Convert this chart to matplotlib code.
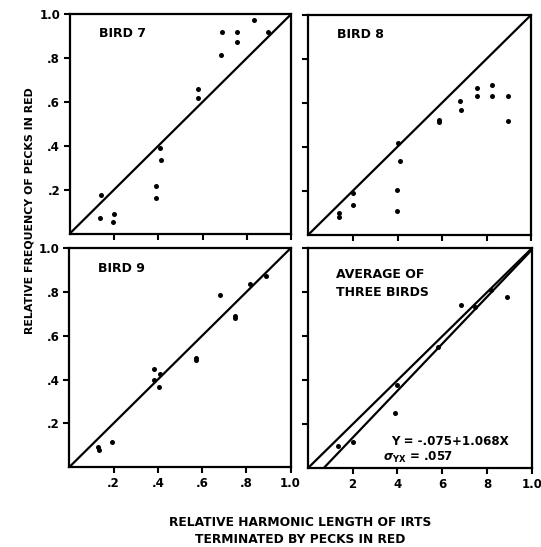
import matplotlib
matplotlib.use("Agg")
import matplotlib.pyplot as plt
import numpy as np

plt.rcParams['font.family'] = ['DejaVu Sans']
plt.rcParams['font.weight'] = 'bold'

# ---- data ----
bird7_x = [0.139, 0.136, 0.199, 0.196, 0.388, 0.388, 0.408, 0.411, 0.579, 0.579,
           0.687, 0.684, 0.755, 0.755, 0.831, 0.897]
bird7_y = [0.175, 0.073, 0.088, 0.055, 0.216, 0.163, 0.388, 0.337, 0.658, 0.617,
           0.921, 0.813, 0.918, 0.875, 0.975, 0.917]

bird8_x = [0.138, 0.138, 0.198, 0.198, 0.403, 0.411, 0.397, 0.397, 0.585, 0.585,
           0.682, 0.685, 0.756, 0.756, 0.825, 0.825, 0.895, 0.895]
bird8_y = [0.098, 0.082, 0.189, 0.136, 0.417, 0.336, 0.205, 0.106, 0.523, 0.513,
           0.608, 0.568, 0.668, 0.630, 0.682, 0.630, 0.630, 0.517]

bird9_x = [0.131, 0.133, 0.192, 0.385, 0.385, 0.408, 0.406, 0.574, 0.574,
           0.680, 0.748, 0.748, 0.819, 0.890]
bird9_y = [0.092, 0.080, 0.114, 0.447, 0.399, 0.425, 0.364, 0.500, 0.488,
           0.785, 0.692, 0.680, 0.836, 0.874]

avg_x = [0.134, 0.201, 0.390, 0.399, 0.582, 0.682, 0.746, 0.820, 0.888]
avg_y = [0.102, 0.120, 0.250, 0.379, 0.550, 0.744, 0.732, 0.812, 0.780]

reg_intercept = -0.075
reg_slope = 1.068

titles = ["BIRD 7", "BIRD 8", "BIRD 9", "AVERAGE OF\nTHREE BIRDS"]
ytick_vals = [0.2, 0.4, 0.6, 0.8, 1.0]
ytick_labels = [".2", ".4", ".6", ".8", "1.0"]
xtick_vals = [0.2, 0.4, 0.6, 0.8, 1.0]
xtick_labels_left = [".2", ".4", ".6", ".8", "1.0"]
xtick_labels_right = ["2", "4", "6", "8", "1.0"]
ylabel = "RELATIVE FREQUENCY OF PECKS IN RED"
xlabel = "RELATIVE HARMONIC LENGTH OF IRTS\nTERMINATED BY PECKS IN RED"
eq_text = "Y = -.075+1.068X"
sigma_text = r"$\sigma_{\mathbf{YX}}$" + " = .057"

# ---- figure ----
fig = plt.figure(figsize=(5.41, 5.47), dpi=100)
positions = [
    [0.129, 0.573, 0.409, 0.401],
    [0.570, 0.571, 0.412, 0.402],
    [0.128, 0.146, 0.409, 0.400],
    [0.569, 0.144, 0.414, 0.402],
]
xs = [bird7_x, bird8_x, bird9_x, avg_x]
ys = [bird7_y, bird8_y, bird9_y, avg_y]

for i, pos in enumerate(positions):
    ax = fig.add_axes(pos)
    ax.set_xlim(0, 1.0)
    ax.set_ylim(0, 1.0)
    ax.plot([0, 1], [0, 1], color='black', lw=1.6, solid_capstyle='butt')
    if i == 3:
        lx = np.array([0.0, 1.0])
        ax.plot(lx, reg_intercept + reg_slope * lx, color='black', lw=1.6,
                solid_capstyle='butt')
    ax.plot(xs[i], ys[i], 'o', color='black', ms=3.6, mec='black', mew=0)
    for s in ax.spines.values():
        s.set_linewidth(1.6)
    ax.set_xticks(xtick_vals)
    ax.set_yticks(ytick_vals)
    ax.tick_params(direction='out', length=4, width=1.5, labelsize=8.5, pad=3)
    if i in (0, 2):
        ax.set_yticklabels(ytick_labels, fontweight='bold')
    else:
        ax.set_yticklabels([])
    if i == 2:
        ax.set_xticklabels(xtick_labels_left, fontweight='bold')
    elif i == 3:
        ax.set_xticklabels(xtick_labels_right, fontweight='bold')
    else:
        ax.set_xticklabels([])
    if i < 3:
        ax.text(0.13, 0.91, titles[i], transform=ax.transAxes, fontsize=9,
                fontweight='bold', va='center', ha='left')
    else:
        ax.text(0.125, 0.84, titles[i], transform=ax.transAxes, fontsize=9,
                fontweight='bold', va='center', ha='left', linespacing=1.45)
        ax.text(0.37, 0.12, eq_text, transform=ax.transAxes, fontsize=8.6,
                fontweight='bold', va='center', ha='left')
        ax.text(0.335, 0.05, sigma_text, transform=ax.transAxes, fontsize=8.6,
                fontweight='bold', va='center', ha='left')

fig.text(30 / 541, 1 - 211 / 547, ylabel, rotation=90, ha='center', va='center',
         fontsize=7.9, fontweight='bold')
fig.text(300 / 541, 1 - 531 / 547, xlabel, ha='center', va='center',
         fontsize=8.8, fontweight='bold', linespacing=1.4)

fig.savefig("out.png", dpi=100, facecolor='white')
